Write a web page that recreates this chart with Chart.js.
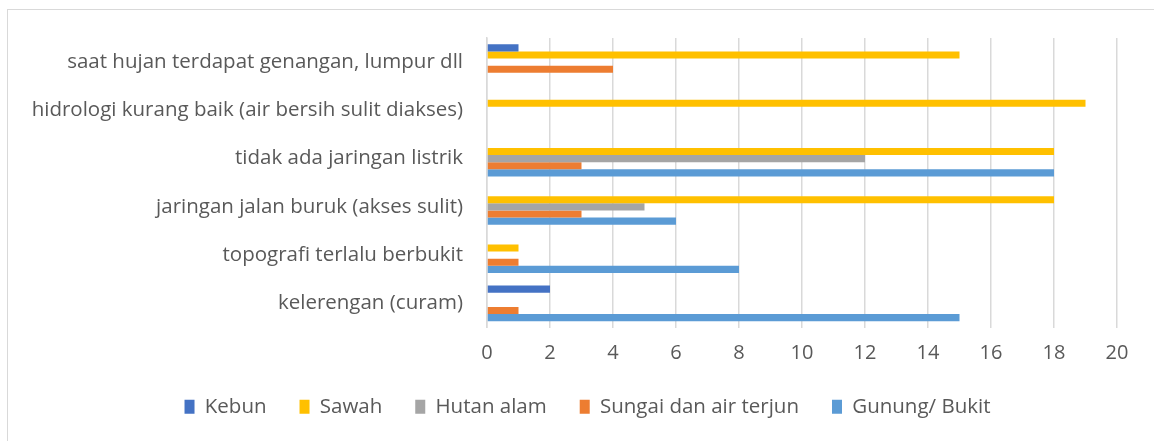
<!DOCTYPE html>
<html>
<head>
<meta charset="utf-8">
<script src="https://cdn.jsdelivr.net/npm/chart.js@4.4.1/dist/chart.umd.min.js"></script>
<style>
  html, body { margin: 0; padding: 0; background: #ffffff; }
  body { width: 1154px; height: 441px; overflow: hidden; position: relative; }
  #frame { position: absolute; left: 7px; top: 9px; width: 1160px; height: 450px; border: 1px solid #d9d9d9; box-sizing: border-box; }
  #wrap { position: absolute; left: 0; top: 0; width: 1154px; height: 441px; }
</style>
</head>
<body>
<div id="frame"></div>
<div id="wrap"><canvas id="c" width="1154" height="441"></canvas></div>
<script>
const categories = [
  "saat hujan terdapat genangan, lumpur dll",
  "hidrologi kurang baik (air bersih sulit diakses)",
  "tidak ada jaringan listrik",
  "jaringan jalan buruk (akses sulit)",
  "topografi terlalu berbukit",
  "kelerengan (curam)"
];
const seriesNames = ["Kebun", "Sawah", "Hutan alam", "Sungai dan air terjun", "Gunung/ Bukit"];
const kebun   = [1, 0, 0, 0, 0, 2];
const sawah   = [15, 19, 18, 18, 1, 0];
const hutan   = [0, 0, 12, 5, 0, 0];
const sungai  = [4, 0, 3, 3, 1, 1];
const gunung  = [0, 0, 18, 6, 8, 15];
const xTicks  = [0, 2, 4, 6, 8, 10, 12, 14, 16, 18, 20];
const colors  = ["#4472C4", "#FFC000", "#A5A5A5", "#ED7D31", "#5B9BD5"];

const seriesValues = [kebun, sawah, hutan, sungai, gunung];
const FONT = "'Open Sans', sans-serif";

const legendShift = {
  id: 'legendShift',
  afterLayout(chart) {
    if (chart.legend) { chart.legend.left += 29; chart.legend.right += 29; }
  }
};

new Chart(document.getElementById('c'), {
  type: 'bar',
  data: {
    labels: categories,
    datasets: seriesNames.map((n, i) => ({
      label: n,
      data: seriesValues[i],
      backgroundColor: colors[i],
      borderWidth: 0,
      categoryPercentage: 0.74,
      barPercentage: 1.0
    }))
  },
  plugins: [legendShift],
  options: {
    indexAxis: 'y',
    responsive: false,
    animation: false,
    devicePixelRatio: 1,
    layout: { padding: { top: 38, right: 37, left: 0, bottom: 14 } },
    scales: {
      x: {
        min: 0, max: 20,
        afterBuildTicks: (s) => { s.ticks = xTicks.map(v => ({ value: v })); },
        grid: { color: '#d9d9d9', lineWidth: 1.5, drawTicks: false },
        border: { display: false },
        ticks: { color: '#595959', font: { family: FONT, size: 20 }, padding: 14 },
        afterFit: (s) => { s.height = 36; }
      },
      y: {
        grid: { display: false, drawTicks: false },
        border: { display: true, color: '#d9d9d9', width: 1.5 },
        ticks: { color: '#595959', font: { family: FONT, size: 20.5 }, padding: 24, autoSkip: false },
        afterFit: (s) => { s.width = 487; }
      }
    },
    plugins: {
      legend: {
        position: 'bottom',
        labels: {
          color: '#595959',
          font: { family: FONT, size: 20.5 },
          boxWidth: 10, boxHeight: 14,
          padding: 33
        }
      },
      tooltip: { enabled: false }
    }
  }
});
</script>
</body>
</html>
